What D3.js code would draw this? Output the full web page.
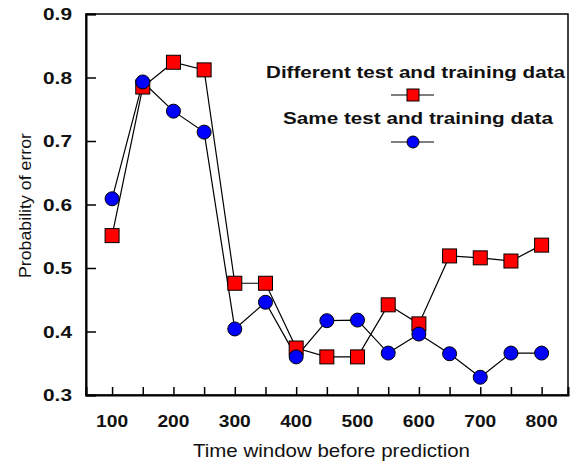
<!DOCTYPE html>
<html>
<head>
<meta charset="utf-8">
<script src="https://cdn.jsdelivr.net/npm/d3@7"></script>
<style>
  body { margin: 0; background: #fff; }
  text { font-family: "Liberation Sans", Arial, sans-serif; fill: #111; }
</style>
</head>
<body>
<script>
// data
const windows = [100, 150, 200, 250, 300, 350, 400, 450, 500, 550, 600, 650, 700, 750, 800];
const differentData = [0.551, 0.785, 0.824, 0.812, 0.476, 0.476, 0.374, 0.360, 0.360, 0.442, 0.412, 0.519, 0.516, 0.511, 0.536];
const sameData = [0.609, 0.793, 0.747, 0.714, 0.404, 0.446, 0.360, 0.417, 0.418, 0.366, 0.396, 0.365, 0.328, 0.366, 0.366];
const xTickLabels = [100, 200, 300, 400, 500, 600, 700, 800];
const yTickLabels = [0.3, 0.4, 0.5, 0.6, 0.7, 0.8, 0.9];

// layout
const width = 577;
const height = 466;
const plotLeft = 86, plotRight = 568, plotTop = 14, plotBottom = 395;

const svg = d3.select("body").append("svg")
  .attr("width", width)
  .attr("height", height);

const x = d3.scaleLinear().domain([57.5, 843]).range([plotLeft, plotRight]);
const y = d3.scaleLinear().domain([0.3, 0.9]).range([plotBottom, plotTop]);

// frame
svg.append("rect")
  .attr("x", plotLeft).attr("y", plotTop)
  .attr("width", plotRight - plotLeft).attr("height", plotBottom - plotTop)
  .attr("fill", "none").attr("stroke", "#000").attr("stroke-width", 1.5);

// y axis
const yAxis = svg.append("g")
  .attr("transform", `translate(${plotLeft},0)`)
  .call(d3.axisRight(y).tickValues(yTickLabels).tickSize(10).tickFormat(""));
yAxis.select(".domain").attr("stroke-width", 2);
yAxis.selectAll(".tick line").attr("stroke-width", 1.5);

svg.append("g").selectAll("text")
  .data(yTickLabels)
  .join("text")
  .attr("x", plotLeft - 14)
  .attr("y", d => y(d))
  .attr("dy", "0.36em")
  .attr("text-anchor", "end")
  .attr("font-size", 17)
  .attr("font-weight", "bold")
  .attr("textLength", 29)
  .attr("lengthAdjust", "spacingAndGlyphs")
  .text(d => d3.format(".1f")(d));

// x axis
const xAxis = svg.append("g")
  .attr("transform", `translate(0,${plotBottom})`)
  .call(d3.axisTop(x).tickValues(windows).tickSize(8).tickFormat(""));
xAxis.select(".domain").attr("stroke-width", 2);
xAxis.selectAll(".tick line").attr("stroke-width", 1.5);

svg.append("g").selectAll("text")
  .data(xTickLabels)
  .join("text")
  .attr("x", d => x(d) - 16)
  .attr("y", 427)
  .attr("font-size", 17)
  .attr("font-weight", "bold")
  .attr("textLength", 32)
  .attr("lengthAdjust", "spacingAndGlyphs")
  .text(d => d);

// axis titles
svg.append("text")
  .attr("x", 193)
  .attr("y", 457)
  .attr("font-size", 19)
  .attr("textLength", 277)
  .attr("lengthAdjust", "spacingAndGlyphs")
  .text("Time window before prediction");

svg.append("text")
  .attr("transform", "translate(31,278) rotate(-90)")
  .attr("font-size", 17)
  .attr("textLength", 145)
  .attr("lengthAdjust", "spacingAndGlyphs")
  .text("Probability of error");

// lines
const line = d3.line().x((d, i) => x(windows[i])).y(d => y(d));

svg.append("path").datum(sameData)
  .attr("d", line).attr("fill", "none").attr("stroke", "#000").attr("stroke-width", 1.2);
svg.append("path").datum(differentData)
  .attr("d", line).attr("fill", "none").attr("stroke", "#000").attr("stroke-width", 1.2);

// markers
const sq = 14;
svg.append("g").selectAll("rect")
  .data(differentData)
  .join("rect")
  .attr("x", (d, i) => x(windows[i]) - sq / 2)
  .attr("y", d => y(d) - sq / 2)
  .attr("width", sq).attr("height", sq)
  .attr("fill", "#ff0000").attr("stroke", "#000").attr("stroke-width", 1);

svg.append("g").selectAll("circle")
  .data(sameData)
  .join("circle")
  .attr("cx", (d, i) => x(windows[i]))
  .attr("cy", d => y(d))
  .attr("r", 7)
  .attr("fill", "#0000ff").attr("stroke", "#000").attr("stroke-width", 1);

// legend
const legendX = 413;
const legend = svg.append("g");
legend.append("text")
  .attr("x", 266).attr("y", 78)
  .attr("font-size", 17).attr("font-weight", "bold")
  .attr("textLength", 299)
  .attr("lengthAdjust", "spacingAndGlyphs")
  .text("Different test and training data");
legend.append("line")
  .attr("x1", legendX - 22).attr("x2", legendX + 21)
  .attr("y1", 95).attr("y2", 95).attr("stroke", "#000").attr("stroke-width", 1.2);
legend.append("rect")
  .attr("x", legendX - 6).attr("y", 89).attr("width", 12).attr("height", 12)
  .attr("fill", "#ff0000").attr("stroke", "#000");

legend.append("text")
  .attr("x", 283).attr("y", 124)
  .attr("font-size", 17).attr("font-weight", "bold")
  .attr("textLength", 270)
  .attr("lengthAdjust", "spacingAndGlyphs")
  .text("Same test and training data");
legend.append("line")
  .attr("x1", legendX - 22).attr("x2", legendX + 21)
  .attr("y1", 142).attr("y2", 142).attr("stroke", "#000").attr("stroke-width", 1.2);
legend.append("circle")
  .attr("cx", legendX).attr("cy", 142).attr("r", 6)
  .attr("fill", "#0000ff").attr("stroke", "#000");
</script>
</body>
</html>
